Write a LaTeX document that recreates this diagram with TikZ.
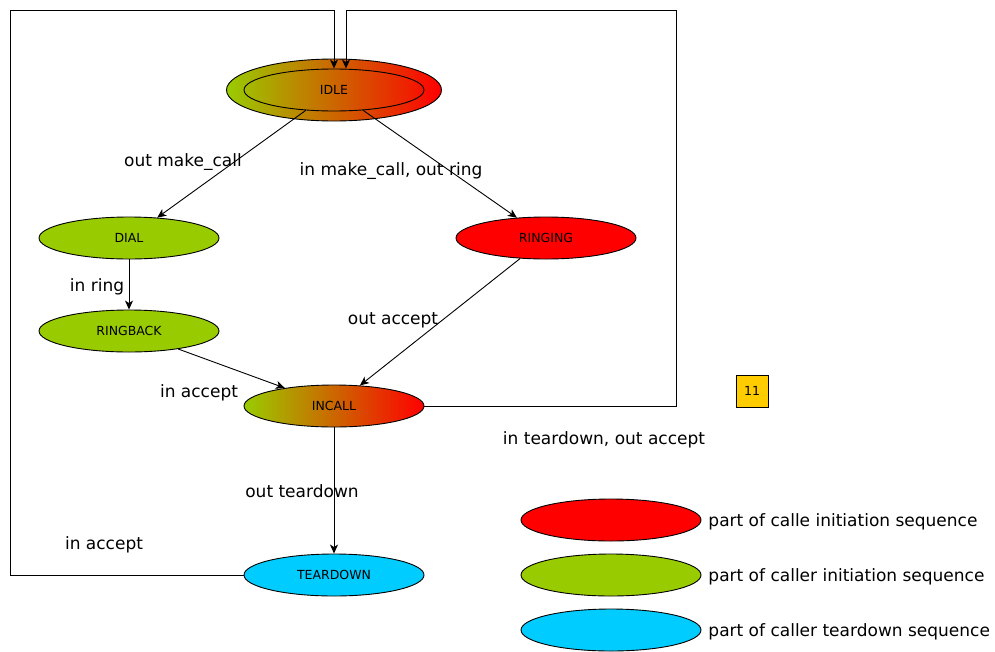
\documentclass[tikz,border=0pt]{standalone}
\usepackage{fontspec}
\setmainfont{DejaVu Sans}
\usetikzlibrary{shapes.geometric,arrows.meta}
\definecolor{cgreen}{RGB}{153,204,0}
\definecolor{cred}{RGB}{255,0,0}
\definecolor{ccyan}{RGB}{0,204,255}
\definecolor{cyellow}{RGB}{255,204,0}
\begin{document}
\begin{tikzpicture}[x=1pt,y=-1pt,
  line width=0.9pt,
  state/.style={ellipse, draw=black, line width=0.9pt, minimum width=180pt, minimum height=42pt, inner sep=0pt, font=\fontsize{12.5}{15}\selectfont},
  grad/.style={left color=cgreen, right color=cred},
  lbl/.style={anchor=base, inner sep=0pt, font=\fontsize{17}{20}\selectfont},
  leg/.style={anchor=base west, inner sep=0pt, font=\fontsize{17}{20}\selectfont},
  arr/.style={-{Stealth[length=9pt,width=8pt,inset=2.5pt]}, line width=0.9pt}
]
\useasboundingbox (0,0) rectangle (995,651);
\fill[white] (0,0) rectangle (995,651);

% IDLE
\node[state, grad, minimum width=215pt, minimum height=62pt] (idle) at (334,90) {};
\node[state] (idlein) at (334,90) {IDLE};

\node[state, fill=cgreen] (dial) at (129,238) {DIAL};
\node[state, fill=cred] (ringing) at (546,238) {RINGING};
\node[state, fill=cgreen] (ringback) at (129,331) {RINGBACK};
\node[state, grad] (incall) at (334,406) {INCALL};
\node[state, fill=ccyan] (teardown) at (334,575) {TEARDOWN};

\node[draw, fill=cyellow, minimum size=32pt, inner sep=0pt, font=\fontsize{12.5}{15}\selectfont] (n11) at (752,391) {11};

% legend
\node[state, fill=cred] (lg1) at (611,520) {};
\node[state, fill=cgreen] (lg2) at (611,575) {};
\node[state, fill=ccyan] (lg3) at (611,630) {};
\node[leg] (lt1) at (708,526) {part of calle initiation sequence};
\node[leg] (lt2) at (708,581) {part of caller initiation sequence};
\node[leg] (lt3) at (708,636) {part of caller teardown sequence};

% loop corners
\coordinate (tl) at (10,10);
\coordinate (tr) at (676,10);

% connectors
\draw[arr] (idlein) -- (dial);
\draw[arr] (idlein) -- (ringing);
\draw[arr] (dial) -- (ringback);
\draw[arr] (ringback) -- (incall);
\draw[arr] (ringing) -- (incall);
\draw[arr] (incall) -- (teardown);
\draw[arr] (teardown.west) -| (tl) -| (idlein.north);
\draw[arr] (incall.east) -| (tr) -| ([xshift=12pt]idlein.north);

% labels
\node[lbl] (l1) at (183,166) {out make\_call};
\node[lbl] (l2) at (391,175) {in make\_call, out ring};
\node[lbl] (l3) at (97,291) {in ring};
\node[lbl] (l4) at (393,324) {out accept};
\node[lbl] (l5) at (199,397) {in accept};
\node[lbl] (l6) at (604,444) {in teardown, out accept};
\node[lbl] (l7) at (302,497) {out teardown};
\node[lbl] (l8) at (104,549) {in accept};
\end{tikzpicture}
\end{document}
